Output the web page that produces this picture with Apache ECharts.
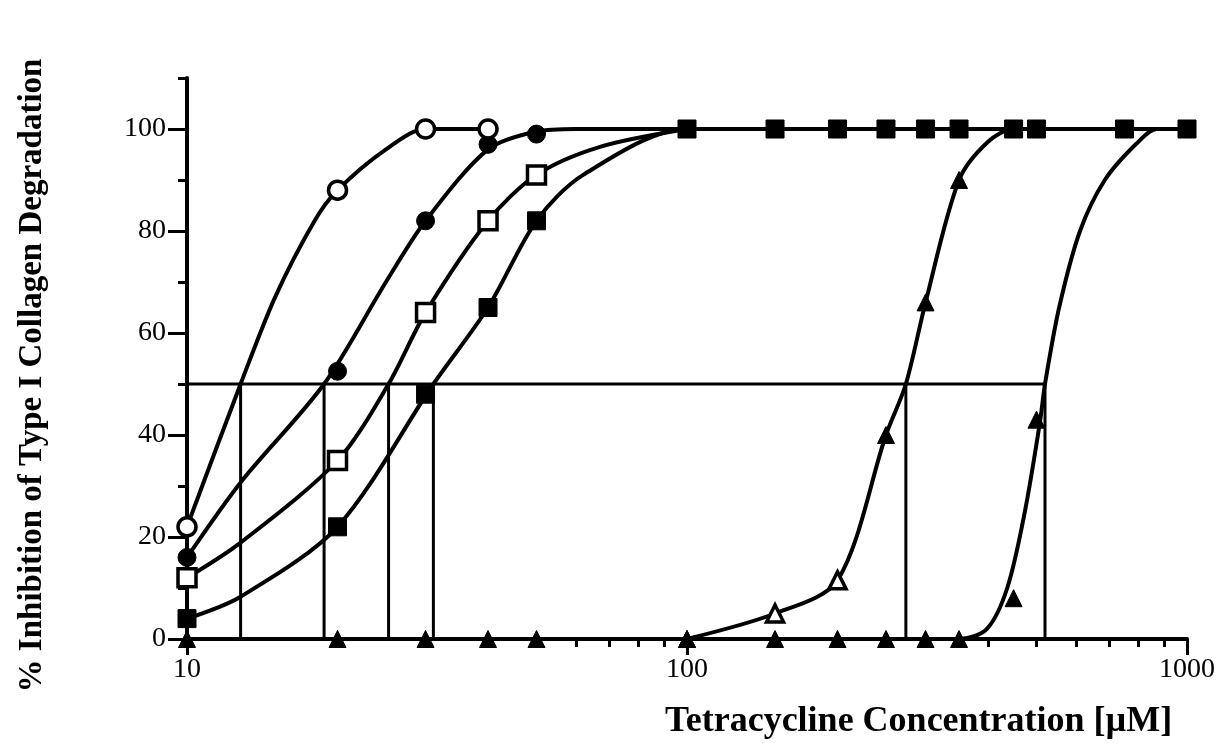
<!DOCTYPE html>
<html><head><meta charset="utf-8">
<script src="https://cdn.jsdelivr.net/npm/echarts@6/dist/echarts.min.js"></script>
<style>html,body{margin:0;padding:0;background:#fff}#c{width:1220px;height:747px}</style>
</head><body><div id="c"></div>
<script>
// ---- tick labels ----
const xTickLabels = [10, 100, 1000];
const xMinorTicks = [20, 30, 40, 50, 60, 70, 80, 90, 200, 300, 400, 500, 600, 700, 800, 900];
const yTickLabels = [0, 20, 40, 60, 80, 100];
const yMinorTicks = [10, 30, 50, 70, 90, 110];

// ---- open circles ----
const openCircleX = [10, 20, 30, 40];
const openCircleY = [22, 88, 100, 100];
const openCircleCurveX = [10, 12.8, 15, 18, 20, 25, 30, 40];
const openCircleCurveY = [22, 50, 67, 82, 88, 96, 100, 100];

// ---- filled circles ----
const filledCircleX = [10, 20, 30, 40, 50];
const filledCircleY = [16, 52.5, 82, 97, 99];
const filledCircleCurveX = [10, 12.8, 18.8, 25, 30, 40, 50, 60, 100];
const filledCircleCurveY = [16, 30.7, 50, 70, 82, 96, 99.5, 100, 100];

// ---- open squares ----
const openSquareX = [10, 20, 30, 40, 50];
const openSquareY = [12, 35, 64, 82, 91];
const openSquareCurveX = [10, 12.8, 20, 25.3, 30, 40, 50, 67, 100];
const openSquareCurveY = [12, 18.9, 35, 50, 64, 82, 91, 96.5, 100];

// ---- filled squares ----
const filledSquareX = [10, 20, 30, 40, 50, 100, 150, 200, 250, 300, 350, 450, 500, 750, 1000];
const filledSquareY = [4, 22, 48, 65, 82, 100, 100, 100, 100, 100, 100, 100, 100, 100, 100];
const filledSquareCurveX = [10, 12.8, 20, 31.1, 40, 50, 62, 100, 1000];
const filledSquareCurveY = [4, 8.3, 22, 50, 65, 82, 91, 100, 100];

// ---- open triangles (upper points print filled) ----
const openTriX = [100, 150, 200, 250, 300, 350];
const openTriY = [0, 5, 11.5, 40, 66, 90];
const openTriFilled = [true, false, false, true, true, true];
const openTriCurveX = [100, 150, 200, 250, 274, 300, 350, 400, 450, 500];
const openTriCurveY = [0, 5, 11.5, 40, 50, 66, 90, 97.5, 100, 100];

// ---- filled triangles ----
const filledTriX = [10, 20, 30, 40, 50, 100, 150, 200, 250, 300, 350, 450, 500];
const filledTriY = [0, 0, 0, 0, 0, 0, 0, 0, 0, 0, 0, 8, 43];
const filledTriCurveX = [10, 350, 398, 437, 474, 508, 520, 555, 611, 685, 790, 870, 1000];
const filledTriCurveY = [0, 0, 2, 10, 25, 42.5, 50, 65, 80, 90, 97, 100, 100];

// ---- IC50 reference lines ----
const halfLevel = 50;
const ic50X = [12.8, 18.8, 25.3, 31.1, 274, 520];

const FONT = 'Liberation Serif';
const zip = (xs, ys) => xs.map((x, i) => [x, ys[i]]);
const FILLED = { color: '#000', borderColor: '#000', borderWidth: 1, opacity: 1 };
const OPEN = { color: '#fff', borderColor: '#000', borderWidth: 3.5, opacity: 1 };

function curve(xs, ys) {
  return { type: 'line', data: zip(xs, ys), smooth: 0.3,
    showSymbol: false, symbol: 'none', clip: false, z: 3,
    lineStyle: { color: '#000', width: 4 } };
}
function marks(xs, ys, symbol, open, size) {
  return { type: 'scatter', data: zip(xs, ys), symbol: symbol, symbolSize: size, clip: false, z: 5,
    itemStyle: open ? OPEN : FILLED };
}

const series = [];
series.push({ type: 'line', data: [[10, halfLevel], [ic50X[ic50X.length - 1], halfLevel]], symbol: 'none', clip: false, z: 2,
  lineStyle: { color: '#000', width: 3 } });
ic50X.forEach(x => series.push({ type: 'line', data: [[x, 0], [x, halfLevel]], symbol: 'none', clip: false, z: 2,
  lineStyle: { color: '#000', width: 3 } }));
series.push(curve(openCircleCurveX, openCircleCurveY));
series.push(curve(filledCircleCurveX, filledCircleCurveY));
series.push(curve(openSquareCurveX, openSquareCurveY));
series.push(curve(filledSquareCurveX, filledSquareCurveY));
series.push(curve(openTriCurveX, openTriCurveY));
series.push(curve(filledTriCurveX, filledTriCurveY));
series.push(marks(filledTriX, filledTriY, 'triangle', false, 17));
series.push({ type: 'scatter', symbol: 'triangle', symbolSize: 17, clip: false, z: 6,
  data: openTriX.map((x, i) => ({ value: [x, openTriY[i]], itemStyle: openTriFilled[i] ? FILLED : OPEN })) });
series.push(marks(filledSquareX, filledSquareY, 'rect', false, 18));
series.push(marks(openSquareX, openSquareY, 'rect', true, 18));
series.push(marks(filledCircleX, filledCircleY, 'circle', false, 18));
series.push(marks(openCircleX, openCircleY, 'circle', true, 18));

const gridRect = { left: 187, right: 33, top: 78, bottom: 108 };
const option = {
  animation: false,
  backgroundColor: '#fff',
  grid: [Object.assign({}, gridRect), Object.assign({}, gridRect)],
  xAxis: [{
    type: 'log', logBase: 10, min: 10, max: 1000, gridIndex: 0, position: 'bottom',
    axisLine: { lineStyle: { color: '#000', width: 4 } },
    axisTick: { customValues: xTickLabels, length: 16, lineStyle: { color: '#000', width: 3 } },
    axisLabel: { customValues: xTickLabels, formatter: v => String(v), margin: 17, fontSize: 28, fontFamily: FONT, color: '#000' },
    splitLine: { show: false }
  }, {
    type: 'log', logBase: 10, min: 10, max: 1000, gridIndex: 1, position: 'bottom',
    axisLine: { show: false },
    axisTick: { customValues: xMinorTicks, length: 8, lineStyle: { color: '#000', width: 3 } },
    axisLabel: { show: false }, splitLine: { show: false }
  }],
  yAxis: [{
    type: 'value', min: 0, max: 110, gridIndex: 0, position: 'left',
    name: '% Inhibition of Type I Collagen Degradation', nameLocation: 'middle', nameGap: 138,
    nameTextStyle: { fontSize: 33, fontWeight: 'bold', fontFamily: FONT, color: '#000', padding: [0, 34, 0, 0] },
    axisLine: { lineStyle: { color: '#000', width: 4 } },
    axisTick: { customValues: yTickLabels, length: 19, lineStyle: { color: '#000', width: 3 } },
    axisLabel: { customValues: yTickLabels, margin: 21, fontSize: 28, fontFamily: FONT, color: '#000' },
    splitLine: { show: false }
  }, {
    type: 'value', min: 0, max: 110, gridIndex: 1, position: 'left',
    axisLine: { show: false },
    axisTick: { customValues: yMinorTicks, length: 9, lineStyle: { color: '#000', width: 3 } },
    axisLabel: { show: false }, splitLine: { show: false }
  }],
  graphic: [{ type: 'text', left: 665, top: 704,
    style: { text: 'Tetracycline Concentration [µM]', font: 'bold 36px "Liberation Serif"', fill: '#000' } }],
  series: series
};
const chart = echarts.init(document.getElementById('c'), null, { renderer: 'canvas' });
chart.setOption(option);
</script></body></html>
